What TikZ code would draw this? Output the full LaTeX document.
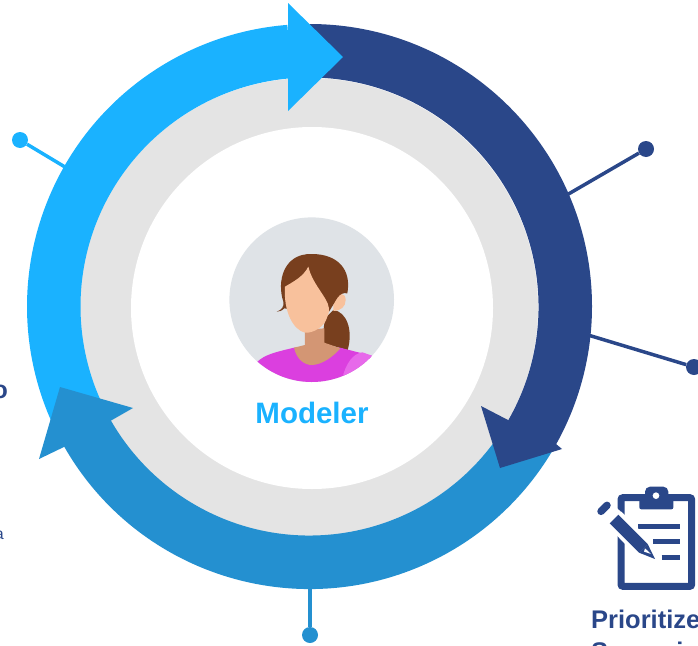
\documentclass[tikz,border=0pt]{standalone}
\usepackage{fontspec}
\setmainfont{Liberation Sans}
\usetikzlibrary{calc,positioning}
\definecolor{skyBand}{HTML}{1AB2FF}
\definecolor{midBand}{HTML}{2490D0}
\definecolor{navyBand}{HTML}{2A4789}
\definecolor{ringGray}{HTML}{E4E4E4}
\definecolor{faceBack}{HTML}{DFE3E7}
\definecolor{hairBrown}{HTML}{783F1E}
\definecolor{skinLight}{HTML}{F8C19C}
\definecolor{skinDark}{HTML}{D39674}
\definecolor{shirtPink}{HTML}{DB3FDF}
\definecolor{shirtLight}{HTML}{E769EA}
\tikzset{
  dot/.style={circle,inner sep=0pt,minimum size=16pt},
  spoke/.style={line width=3.5pt},
  sideText/.style={text=navyBand,font=\bfseries,inner sep=0pt}
}
\begin{document}
\begin{tikzpicture}[x=1pt,y=-1pt]
  \path[use as bounding box,clip] (0,0) rectangle (698,645);
  \def\outerR{282.5}
  \def\innerR{229}

  % draw the spokes
  \node[dot,fill=skyBand] (skyDot) at (20,140) {};
  \node[dot,fill=navyBand] (navyDotA) at (646,149) {};
  \node[dot,fill=navyBand] (navyDotB) at (694,367) {};
  \node[dot,fill=midBand] (midDot) at (310,635) {};
  \coordinate (skyEnd) at (70,170);
  \coordinate (navyEndA) at (565,196);
  \coordinate (navyEndB) at (588,335);
  \coordinate (midEnd) at (310,586);
  \draw[spoke,skyBand] (skyDot) -- (skyEnd);
  \draw[spoke,navyBand] (navyDotA) -- (navyEndA);
  \draw[spoke,navyBand] (navyDotB) -- (navyEndB);
  \draw[spoke,midBand] (midDot) -- (midEnd);

  % draw the gray ring
  \fill[ringGray] (309,307) circle [radius=229];
  \fill[white] (312,308) circle [radius=181];

  % draw the bands, each one over the last
  \begin{scope}[shift={(309.5pt,-306.5pt)},y=1pt]
    \foreach \from/\to/\col in {94.5/205/skyBand,-152/-31/midBand,90/-31/navyBand}
      \fill[\col] (\from:\outerR) arc (\from:\to:\outerR) -- (\to:\innerR) arc (\to:\from:\innerR) -- cycle;
  \end{scope}
  \fill[midBand] (112,420) -- (133,408) -- (60,387) -- (39,459) -- (66,446) -- cycle;
  \fill[navyBand] (508,420) -- (481,406) -- (500,468) -- (562,449) -- (556,444) -- cycle;
  \fill[skyBand] (288,3) -- (343,57) -- (288,111) -- cycle;

  % draw the person
  \fill[faceBack] (311.7,299.7) circle [radius=82.3];
  \begin{scope}
    \clip (311.7,299.7) circle [radius=82.3];
    \begin{scope}[shift={(255pt,-245pt)},scale=.3333]
      \fill[hairBrown] (235,195) .. controls (275,200) and (295,255) .. (278,315) -- (205,295) .. controls (205,260) and (205,235) .. (215,215) -- cycle;
      \fill[shirtPink] (5,352) .. controls (30,328) and (60,322) .. (117,308) -- (255,308) -- (360,335) -- (360,420) -- (5,420) -- cycle;
      \fill[shirtLight] (262,400) .. controls (272,355) and (295,325) .. (322,322) -- (360,335) -- (360,420) -- (262,420) -- cycle;
      \fill[skinDark] (150,255) -- (150,300) -- (117,308) .. controls (125,345) and (150,360) .. (170,360) .. controls (200,360) and (235,335) .. (256,310) -- (208,293) -- (208,250) -- cycle;
    \end{scope}
  \end{scope}
  \begin{scope}[shift={(255pt,-245pt)},scale=.3333]
    \fill[skinLight] (235,165) .. controls (250,140) and (272,142) .. (272,165) .. controls (272,185) and (258,197) .. (235,198) -- cycle;
    \fill[hairBrown] (85,170) .. controls (65,110) and (85,25) .. (170,27) .. controls (250,27) and (290,75) .. (277,145) .. controls (250,140) and (245,165) .. (222,200) -- (150,200) -- (88,190) .. controls (80,198) and (72,200) .. (65,200) .. controls (80,195) and (88,185) .. (85,170) -- cycle;
    \fill[skinLight] (90,125) .. controls (115,110) and (145,95) .. (160,65) .. controls (170,110) and (205,145) .. (218,175) .. controls (225,195) and (222,205) .. (217,215) .. controls (210,245) and (175,265) .. (150,263) .. controls (115,255) and (85,200) .. (90,125) -- cycle;
  \end{scope}

  % draw the clipboard icon
  \begin{scope}[shift={(590pt,-480pt)},scale=.3333]
    \draw[navyBand,line width=7pt,rounded corners=2pt] (93,53) rectangle (305,319);
    \fill[white] (78,82) -- (112,112) -- (112,190) -- (78,160) -- cycle;
    \fill[navyBand,rounded corners=2pt] (148,55) rectangle (250,88);
    \fill[navyBand,rounded corners=5pt] (165,20) rectangle (235,60);
    \fill[white] (198,47) circle [radius=10];
    \foreach \xs/\yl in {145/140,190/185,215/232}
      \draw[navyBand,line width=4.5pt] (\xs,\yl) -- (270,\yl);
    % pencil
    \fill[white] (94,95) -- (182,183) -- (205,245) -- (140,228) -- (50,135) -- cycle;
    \fill[navyBand] (85,104) -- (173,192) -- (147,218) -- (59,130) -- cycle;
    \fill[navyBand] (173,192) -- (195,237) -- (147,218) -- cycle;
    \fill[white] (165,205) -- (183,222) -- (162,215) -- cycle;
    \draw[navyBand,line width=7.5pt,line cap=round] (33,94) -- (51,76);
  \end{scope}

  % draw the texts
  \node[text=skyBand,font=\bfseries\fontsize{29.5}{32}\selectfont,inner sep=0pt] (roleLabel) at (312,413) {Modeler};
  \node[sideText,font=\bfseries\fontsize{25.5}{31.5}\selectfont,anchor=north west,align=left] (prioLabel) at (591,610) {Prioritize\\Scenario};
  \node[sideText,font=\bfseries\fontsize{25}{29}\selectfont,anchor=base east] (leftLabel) at (8,398) {o};
  \node[sideText,font=\fontsize{16}{18}\selectfont,anchor=base east] (smallLabel) at (4,539) {a};
\end{tikzpicture}
\end{document}
